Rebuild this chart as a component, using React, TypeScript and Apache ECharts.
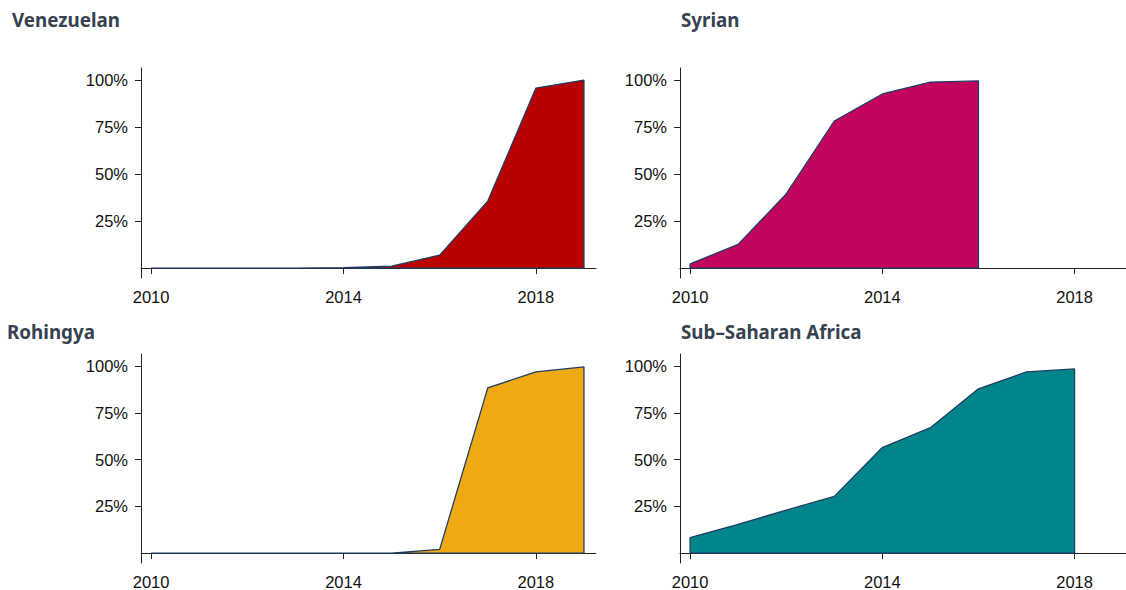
import React, { useEffect, useRef } from "react";
import * as echarts from "echarts";

const titles = ["Venezuelan", "Syrian", "Rohingya", "Sub\u2013Saharan Africa"];
const colors = ["#b80000", "#c2045f", "#eea913", "#00858a"];

const venezuelaYears = [2010, 2011, 2012, 2013, 2014, 2015, 2016, 2017, 2018, 2019];
const venezuelaValues = [0, 0, 0, 0, 0.2, 1, 6.9, 35.6, 95.7, 100];

const syriaYears = [2010, 2011, 2012, 2013, 2014, 2015, 2016];
const syriaValues = [2.2, 12.6, 39.4, 78.2, 92.6, 98.9, 99.5];

const rohingyaYears = [2010, 2011, 2012, 2013, 2014, 2015, 2016, 2017, 2018, 2019];
const rohingyaValues = [0, 0, 0, 0, 0, 0, 2, 88.3, 96.8, 99.5];

const ssaYears = [2010, 2011, 2012, 2013, 2014, 2015, 2016, 2017, 2018];
const ssaValues = [8.3, 15.4, 23, 30.3, 56.4, 67, 87.8, 96.8, 98.4];

const yTicks = [25, 50, 75, 100];
const xTicks = [2010, 2014, 2018];

const OUTLINE = "#1f3d63";

function closedPath(years: number[], vals: number[]) {
  const pts = years.map((y, i) => [y, vals[i]]);
  return [[years[0], 0], ...pts, [years[years.length - 1], 0], [years[0], 0]];
}

export default function App() {
  const ref = useRef<HTMLDivElement>(null);
  useEffect(() => {
    if (!ref.current) return;
    const chart = echarts.init(ref.current, null, { renderer: "svg" });
    const panels = [
      { years: venezuelaYears, vals: venezuelaValues, left: 141, top: 68, width: 455, xMax: 2019.25 },
      { years: syriaYears, vals: syriaValues, left: 680, top: 68, width: 446, xMax: 2019.07 },
      { years: rohingyaYears, vals: rohingyaValues, left: 141, top: 354, width: 455, xMax: 2019.25 },
      { years: ssaYears, vals: ssaValues, left: 680, top: 354, width: 446, xMax: 2019.07 },
    ];
    const titlePos = [
      { left: 12, top: 10 },
      { left: 681, top: 10 },
      { left: 7, top: 322 },
      { left: 681, top: 322 },
    ];
    const labelFont = { fontFamily: "Liberation Sans", fontSize: 16.5, color: "#111" };
    chart.setOption({
      animation: false,
      backgroundColor: "#fff",
      title: titles.map((t, i) => ({
        text: t,
        left: titlePos[i].left,
        top: titlePos[i].top,
        padding: 0,
        textStyle: { fontFamily: "Noto Sans", fontWeight: "bold", fontSize: 18.8, color: "#36424f" },
      })),
      grid: panels.map((p) => ({ left: p.left, top: p.top, width: p.width, height: 210 })),
      xAxis: panels.map((p, i) => ({
        type: "value",
        gridIndex: i,
        min: 2009.79,
        max: p.xMax,
        axisLine: { show: true, lineStyle: { color: "#222", width: 1 } },
        axisTick: { show: true, length: 6, customValues: xTicks, lineStyle: { color: "#222" } },
        axisLabel: { ...labelFont, margin: 10, customValues: xTicks, formatter: (v: number) => String(v) },
        splitLine: { show: false },
      })),
      yAxis: panels.map((p, i) => ({
        type: "value",
        gridIndex: i,
        min: -5.3,
        max: 106.4,
        axisLine: { show: true, lineStyle: { color: "#222", width: 1 } },
        axisTick: { show: true, length: 6, customValues: yTicks, lineStyle: { color: "#222" } },
        axisLabel: { ...labelFont, margin: 13, customValues: yTicks, formatter: (v: number) => v + "%" },
        splitLine: { show: false },
      })),
      series: panels.map((p, i) => ({
        type: "line",
        xAxisIndex: i,
        yAxisIndex: i,
        data: closedPath(p.years, p.vals),
        showSymbol: false,
        symbol: "none",
        lineStyle: { color: OUTLINE, width: 1.3 },
        areaStyle: { color: colors[i], opacity: 1 },
        silent: true,
      })),
    });
    return () => chart.dispose();
  }, []);
  return (
    <div
      ref={ref}
      style={{ position: "fixed", left: 0, top: 0, width: 1126, height: 590, background: "#fff" }}
    />
  );
}
